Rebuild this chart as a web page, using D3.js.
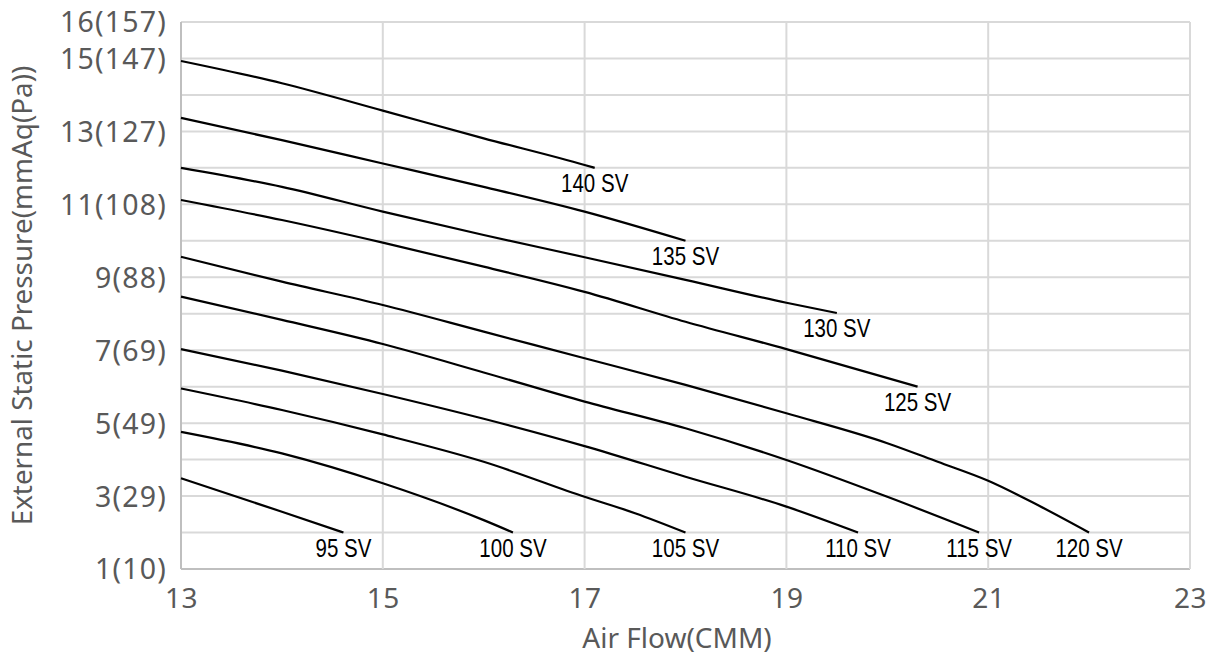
<!DOCTYPE html>
<html>
<head>
<meta charset="utf-8">
<script src="https://cdn.jsdelivr.net/npm/d3@7"></script>
<style>
  html, body { margin: 0; padding: 0; background: #fff; }
  svg { display: block; }
</style>
</head>
<body>
<svg id="chart" width="1211" height="656"></svg>
<script>
// ---- Data (Air flow in CMM, external static pressure in mmAq) ----
const xTicks = [13, 15, 17, 19, 21, 23];
const yTicks = [1, 3, 5, 7, 9, 11, 13, 15, 16];
const yTickLabels = ["1(10)", "3(29)", "5(49)", "7(69)", "9(88)", "11(108)", "13(127)", "15(147)", "16(157)"];
const xTitle = "Air Flow(CMM)";
const yTitle = "External Static Pressure(mmAq(Pa))";

const sv95  = [[13, 3.49], [14, 2.57], [14.61, 2.0]];
const sv100 = [[13, 4.76], [14, 4.17], [15, 3.35], [16, 2.34], [16.29, 2.0]];
const sv105 = [[13, 5.95], [14, 5.36], [15, 4.69], [16, 3.94], [17, 2.98], [17.5, 2.53], [18.0, 2.0]];
const sv110 = [[13, 7.03], [14, 6.44], [15, 5.80], [16, 5.12], [17, 4.37], [18, 3.53], [19, 2.71], [19.71, 2.0]];
const sv115 = [[13, 8.47], [14, 7.83], [15, 7.17], [16, 6.39], [17, 5.59], [18, 4.86], [19, 3.99], [20, 2.98], [20.91, 2.0]];
const sv120 = [[13, 9.56], [14, 8.88], [15, 8.24], [16, 7.51], [17, 6.78], [18, 6.05], [19, 5.27], [20, 4.45], [20.5, 3.94], [21, 3.42], [21.5, 2.74], [22.0, 2.0]];
const sv125 = [[13, 11.12], [14, 10.57], [15, 9.95], [16, 9.29], [17, 8.60], [18, 7.78], [19, 7.03], [20.3, 6.0]];
const sv130 = [[13, 12.0], [14, 11.48], [15, 10.80], [16, 10.16], [17, 9.55], [18, 8.93], [19, 8.30], [19.5, 8.02]];
const sv135 = [[13, 13.37], [14, 12.76], [15, 12.12], [16, 11.48], [17, 10.80], [18.0, 10.0]];
const sv140 = [[13, 14.93], [14, 14.32], [15, 13.57], [16, 12.81], [17, 12.08], [17.1, 12.0]];

const seriesNames = ["95 SV", "100 SV", "105 SV", "110 SV", "115 SV", "120 SV", "125 SV", "130 SV", "135 SV", "140 SV"];
const seriesData  = [sv95, sv100, sv105, sv110, sv115, sv120, sv125, sv130, sv135, sv140];

// ---- Layout ----
const svg = d3.select("#chart");
const margin = { left: 181, right: 21, top: 22, bottom: 87 };
const W = 1211, H = 656;

const x = d3.scaleLinear().domain([13, 23]).range([margin.left, W - margin.right]);
const y = d3.scaleLinear().domain([1, 16]).range([H - margin.bottom, margin.top]);

const gridColor = "#d9d9d9";
const axisColor = "#bfbfbf";
const textColor = "#595959";
const uiFont = "'Noto Sans', 'Open Sans', sans-serif";

// Horizontal grid lines at every unit
const g = svg.append("g");
g.selectAll("line.hgrid")
  .data(d3.range(1, 17))
  .join("line")
  .attr("class", "hgrid")
  .attr("x1", x(13)).attr("x2", x(23))
  .attr("y1", d => y(d)).attr("y2", d => y(d))
  .attr("stroke", d => d === 1 ? axisColor : gridColor)
  .attr("stroke-width", 2);

// Vertical grid lines
g.selectAll("line.vgrid")
  .data(xTicks)
  .join("line")
  .attr("class", "vgrid")
  .attr("x1", d => x(d)).attr("x2", d => x(d))
  .attr("y1", y(1)).attr("y2", y(16))
  .attr("stroke", d => d === 13 ? axisColor : gridColor)
  .attr("stroke-width", 2);

// Axes (text only)
const xAxis = d3.axisBottom(x).tickValues(xTicks).tickSize(0).tickPadding(0).tickFormat(d3.format("d"));
const xg = svg.append("g").attr("transform", `translate(0,${y(1)})`).call(xAxis);
xg.select(".domain").remove();
xg.selectAll("text")
  .attr("y", 0).attr("dy", 0)
  .attr("transform", "translate(0,39)")
  .style("font-family", uiFont)
  .style("font-size", "28px")
  .style("letter-spacing", "0.5px")
  .attr("fill", textColor);

const yAxis = d3.axisLeft(y).tickValues(yTicks).tickSize(0).tickPadding(14)
  .tickFormat((d, i) => yTickLabels[i]);
const yg = svg.append("g").attr("transform", `translate(${x(13)},0)`).call(yAxis);
yg.select(".domain").remove();
yg.selectAll("text")
  .attr("dy", "0.35em")
  .style("font-family", uiFont)
  .style("font-size", "28.5px")
  .style("letter-spacing", "1.2px")
  .attr("fill", textColor);

// Axis titles
svg.append("text")
  .attr("x", 677).attr("y", 648)
  .attr("text-anchor", "middle")
  .style("font-family", uiFont)
  .style("font-size", "28px")
  .attr("fill", textColor)
  .text(xTitle);

svg.append("text")
  .attr("transform", `translate(32,${(y(1) + y(16)) / 2}) rotate(-90)`)
  .attr("text-anchor", "middle")
  .style("font-family", uiFont)
  .style("font-size", "27.8px")
  .attr("fill", textColor)
  .text(yTitle);

// Curves
const line = d3.line()
  .x(d => x(d[0]))
  .y(d => y(d[1]))
  .curve(d3.curveMonotoneX);

svg.append("g").selectAll("path")
  .data(seriesData)
  .join("path")
  .attr("d", d => line(d))
  .attr("fill", "none")
  .attr("stroke", "#000")
  .attr("stroke-width", 2.2)
  .attr("stroke-linecap", "butt");

// End labels
const lbl = svg.append("g").selectAll("g")
  .data(seriesData)
  .join("g")
  .attr("transform", d => {
    const last = d[d.length - 1];
    return `translate(${x(last[0])},${y(last[1]) + 24})`;
  });
lbl.append("text")
  .attr("text-anchor", "middle")
  .attr("transform", "scale(0.82,1)")
  .style("font-family", "'Liberation Sans', Arial, sans-serif")
  .style("font-size", "25px")
  .attr("fill", "#000")
  .text((d, i) => seriesNames[i]);
</script>
</body>
</html>
